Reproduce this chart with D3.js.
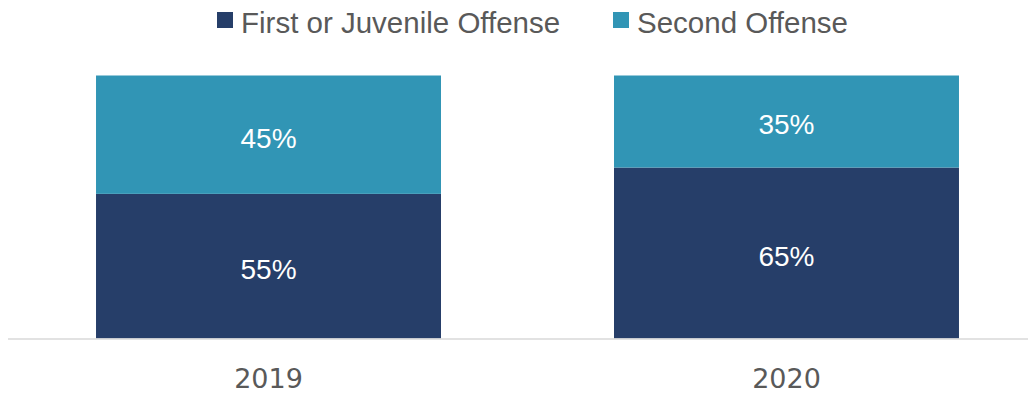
<!DOCTYPE html>
<html>
<head>
<meta charset="utf-8">
<script src="https://cdn.jsdelivr.net/npm/d3@7"></script>
<style>
  html, body { margin: 0; padding: 0; background: #ffffff; }
  svg { display: block; }
  text { font-family: "Liberation Sans", Arial, sans-serif; }
</style>
</head>
<body>
<svg id="chart" width="1036" height="395"></svg>
<script>
// Offense share by year (percent)
const years = ["2019", "2020"];
const firstOrJuvenile = [55, 65];
const secondOffense = [45, 35];
const seriesNames = ["First or Juvenile Offense", "Second Offense"];
const seriesColors = ["#263e69", "#3195b5"];

const width = 1036, height = 395;
const plot = { left: 8, right: 1028, top: 75.5, bottom: 338.5 };

const svg = d3.select("#chart");

const x = d3.scaleBand()
  .domain(years)
  .range([9, 1046])
  .paddingInner(0.334)
  .paddingOuter(0.168);

const y = d3.scaleLinear()
  .domain([0, 100])
  .range([plot.bottom, plot.top]);

const rows = years.map((yr, i) => ({ year: yr, first: firstOrJuvenile[i], second: secondOffense[i] }));
const stacked = d3.stack().keys(["first", "second"])(rows);

const groups = svg.append("g").selectAll("g")
  .data(stacked)
  .join("g")
  .attr("fill", (d, i) => seriesColors[i]);

groups.selectAll("rect")
  .data(d => d)
  .join("rect")
  .attr("x", d => x(d.data.year))
  .attr("width", x.bandwidth())
  .attr("y", d => y(d[1]))
  .attr("height", d => y(d[0]) - y(d[1]));

// value labels centred in each segment
groups.selectAll("text")
  .data(d => d)
  .join("text")
  .attr("x", d => x(d.data.year) + x.bandwidth() / 2)
  .attr("y", d => (y(d[0]) + y(d[1])) / 2)
  .attr("dy", "0.46em")
  .attr("text-anchor", "middle")
  .attr("fill", "#ffffff")
  .attr("font-size", 28)
  .text(d => (d[1] - d[0]) + "%");

// baseline
svg.append("line")
  .attr("x1", plot.left).attr("x2", plot.right)
  .attr("y1", plot.bottom + 0.5).attr("y2", plot.bottom + 0.5)
  .attr("stroke", "#d9d9d9")
  .attr("stroke-width", 1.5);

// category axis
const xAxis = svg.append("g")
  .attr("transform", `translate(0,${plot.bottom})`)
  .call(d3.axisBottom(x).tickSize(0).tickPadding(0));
xAxis.select(".domain").remove();
xAxis.selectAll("text")
  .attr("y", 49.5)
  .attr("dy", null)
  .attr("fill", "#595959")
  .attr("font-size", 27)
  .style("font-family", "\"DejaVu Sans\", \"Liberation Sans\", sans-serif");

// legend
const legendX = [217, 613];
const legend = svg.append("g").selectAll("g")
  .data(seriesNames)
  .join("g")
  .attr("transform", (d, i) => `translate(${legendX[i]},12)`);
legend.append("rect")
  .attr("width", 16).attr("height", 16)
  .attr("fill", (d, i) => seriesColors[i]);
legend.append("text")
  .attr("x", 24)
  .attr("y", 20.5)
  .attr("fill", "#595959")
  .attr("font-size", 29.5)
  .text(d => d);
</script>
</body>
</html>
